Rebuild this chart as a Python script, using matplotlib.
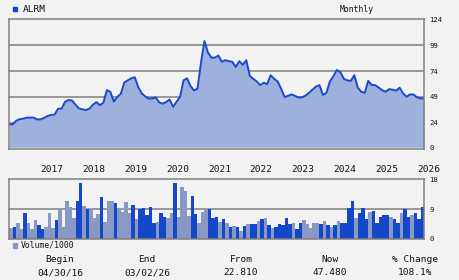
import matplotlib
matplotlib.use('Agg')
import matplotlib.pyplot as plt
import numpy as np
from matplotlib.patches import Rectangle

# ── Colours ───────────────────────────────────────────────────────────────
C_BG    = '#f2f2f2'
C_FRAME = '#808080'
C_LINE  = '#1a4acc'
C_FILL  = '#9eb0dc'
C_DARK  = '#1448c8'
C_LIGHT = '#8899c4'
C_TEXT  = '#111111'

plt.rcParams['font.family'] = ['DejaVu Sans Mono']

# ── Data (ALRM monthly, 04/2016 .. 03/2026) ────────────────────────────────
ticker = 'ALRM'
price = [22.8, 22.5, 26.0, 27.5, 28.0, 29.0, 29.0, 29.0, 27.3, 27.3,
         28.8, 30.6, 31.6, 32.0, 37.6, 37.6, 44.3, 46.0, 45.6, 41.5,
         37.8, 37.0, 36.3, 37.7, 41.5, 44.0, 41.0, 43.5, 55.6, 54.0,
         44.5, 49.0, 52.0, 63.0, 65.0, 67.0, 68.0, 58.5, 52.5, 49.5,
         47.3, 47.5, 48.5, 43.8, 42.5, 44.0, 46.5, 39.5, 44.3, 49.0,
         65.0, 67.0, 59.5, 55.3, 57.0, 82.0, 103.0, 92.0, 87.0, 87.0,
         89.0, 83.0, 84.5, 83.5, 83.0, 78.0, 83.5, 80.0, 84.5, 69.5,
         66.5, 64.0, 60.4, 62.7, 61.5, 70.0, 66.5, 64.0, 57.0, 49.0,
         50.0, 51.5, 50.0, 48.5, 48.5, 50.3, 53.0, 56.0, 59.0, 60.4,
         51.0, 53.0, 64.0, 69.0, 75.0, 73.0, 66.5, 65.0, 64.5, 70.0,
         58.0, 54.0, 53.0, 64.5, 60.5, 60.4, 58.0, 55.5, 54.0, 56.5,
         56.0, 55.0, 57.9, 52.5, 49.2, 51.4, 51.4, 48.5, 47.6, 47.5]

# volume in thousands, one bar per month; flag 1 = dark bar, 0 = light bar
volume = [3.3, 3.5, 4.9, 2.9, 7.9, 4.9, 2.9, 5.8, 4.1, 2.9,
          3.5, 7.9, 3.2, 5.8, 9.0, 3.5, 11.5, 9.7, 6.4, 11.5,
          16.8, 10.0, 9.1, 9.4, 6.4, 7.6, 12.7, 5.2, 11.5, 11.5,
          10.9, 9.4, 8.2, 11.2, 7.9, 10.3, 6.1, 8.9, 9.4, 7.1,
          9.7, 4.9, 5.2, 7.9, 6.7, 6.4, 7.9, 16.8, 6.7, 15.6,
          14.5, 7.0, 13.0, 7.6, 4.9, 8.2, 8.9, 8.9, 6.4, 6.7,
          5.2, 6.1, 4.9, 3.5, 3.8, 3.5, 2.3, 3.8, 4.4, 4.4,
          4.4, 5.5, 6.1, 6.4, 4.1, 3.2, 3.5, 4.6, 4.1, 6.4,
          4.4, 4.9, 2.9, 4.9, 5.8, 4.4, 3.2, 4.7, 4.7, 4.4,
          5.5, 4.1, 3.5, 4.1, 5.5, 4.7, 4.7, 9.4, 11.5, 6.4,
          7.7, 9.4, 6.1, 8.2, 8.5, 4.7, 6.7, 7.3, 7.3, 6.7,
          6.1, 4.9, 7.7, 8.9, 6.7, 7.3, 7.7, 6.1, 9.7]
vol_flag = [0, 1, 0, 0, 1, 0, 0, 0, 1, 1,
            0, 0, 0, 1, 0, 0, 0, 0, 0, 1,
            1, 0, 1, 0, 0, 0, 1, 0, 0, 0,
            1, 0, 0, 0, 0, 1, 0, 1, 1, 1,
            1, 1, 0, 1, 1, 0, 0, 1, 0, 0,
            0, 0, 1, 1, 0, 0, 0, 1, 1, 1,
            0, 1, 0, 1, 0, 1, 0, 1, 0, 1,
            1, 0, 1, 0, 1, 0, 1, 1, 1, 1,
            1, 0, 1, 1, 0, 0, 0, 0, 0, 1,
            0, 1, 0, 1, 0, 1, 1, 1, 1, 0,
            1, 1, 1, 0, 1, 1, 1, 1, 1, 0,
            1, 1, 0, 1, 1, 0, 1, 1, 1]

years = [2017, 2018, 2019, 2020, 2021, 2022, 2023, 2024, 2025, 2026]
start_year, start_month = 2016, 4
price_ticks = [0, 24, 49, 74, 99, 124]
vol_ticks = [0, 9, 18]

summary_heads = ['Begin', 'End', 'From', 'Now', '% Change']
summary_vals  = ['04/30/16', '03/02/26', '22.810', '47.480', '108.1%']

# ── Figure ────────────────────────────────────────────────────────────────
W, H = 460, 280
fig = plt.figure(figsize=(W / 100, H / 100), dpi=100, facecolor=C_BG)

def box(x0, y0, x1, y1):
    # pixel box (top-left origin) -> figure fraction rect
    return [x0 / W, 1 - y1 / H, (x1 - x0) / W, (y1 - y0) / H]

ax = fig.add_axes(box(9.3, 19.3, 424, 149))
axv = fig.add_axes(box(9.3, 179.3, 424, 238.7))

for a in (ax, axv):
    a.set_facecolor(C_BG)
    for s in a.spines.values():
        s.set_color(C_FRAME)
        s.set_linewidth(1.1)
    a.yaxis.tick_right()
    a.tick_params(axis='y', length=0, pad=4, labelsize=5.2, colors=C_TEXT)
    a.set_xticks([])

# Price panel
xp = np.arange(len(price))
for g in price_ticks[1:-1]:
    ax.axhline(g, color=C_FRAME, lw=1.1, zorder=0)
ax.fill_between(xp, price, 0, color=C_FILL, lw=0, zorder=1)
ax.plot(xp, price, color=C_LINE, lw=1.4, zorder=2)
ax.axhline(0, color='white', lw=1.0, zorder=2)
ax.set_xlim(0, len(price) - 1)
ax.set_ylim(-1.3, 124)
ax.set_yticks(price_ticks)

# Volume panel
xv = np.arange(len(volume))
axv.axhline(vol_ticks[1], color=C_FRAME, lw=1.1, zorder=0)
axv.bar(xv, volume, width=1.0, align='edge', lw=0, zorder=1,
        antialiased=False,
        color=[C_DARK if f else C_LIGHT for f in vol_flag])
axv.set_xlim(0, len(volume))
axv.set_ylim(0, 18)
axv.set_yticks(vol_ticks)

# Year labels, left-aligned at January of each year
for y in years:
    m = (y - start_year) * 12 + 1 - start_month
    axv.text(m, 1.157, str(y), transform=axv.get_xaxis_transform(),
             ha='left', va='center', fontsize=6.8, color=C_TEXT)

# Header
fig.patches.append(Rectangle((13.3 / W, 1 - 11.3 / H), 4 / W, 4.6 / H,
                             transform=fig.transFigure, color=C_DARK))
fig.text(22.5 / W, 1 - 9 / H, ticker, ha='left', va='center',
         fontsize=6.8, color=C_TEXT)
fig.text(357 / W, 1 - 9 / H, 'Monthly', ha='center', va='center',
         fontsize=5.8, color=C_TEXT)

# Volume legend
fig.patches.append(Rectangle((13.3 / W, 1 - 247.5 / H), 4 / W, 4.5 / H,
                             transform=fig.transFigure, color=C_LIGHT))
fig.text(21 / W, 1 - 245.3 / H, 'Volume/1000', ha='left', va='center',
         fontsize=5.8, color=C_TEXT)

# Summary row
for cx, head, val in zip([60, 147, 241, 330, 415], summary_heads, summary_vals):
    fig.text(cx / W, 1 - 259.5 / H, head, ha='center', va='center',
             fontsize=6.8, color=C_TEXT)
    fig.text(cx / W, 1 - 272.8 / H, val, ha='center', va='center',
             fontsize=6.8, color=C_TEXT)

fig.savefig('out.png', dpi=100, facecolor=C_BG)
